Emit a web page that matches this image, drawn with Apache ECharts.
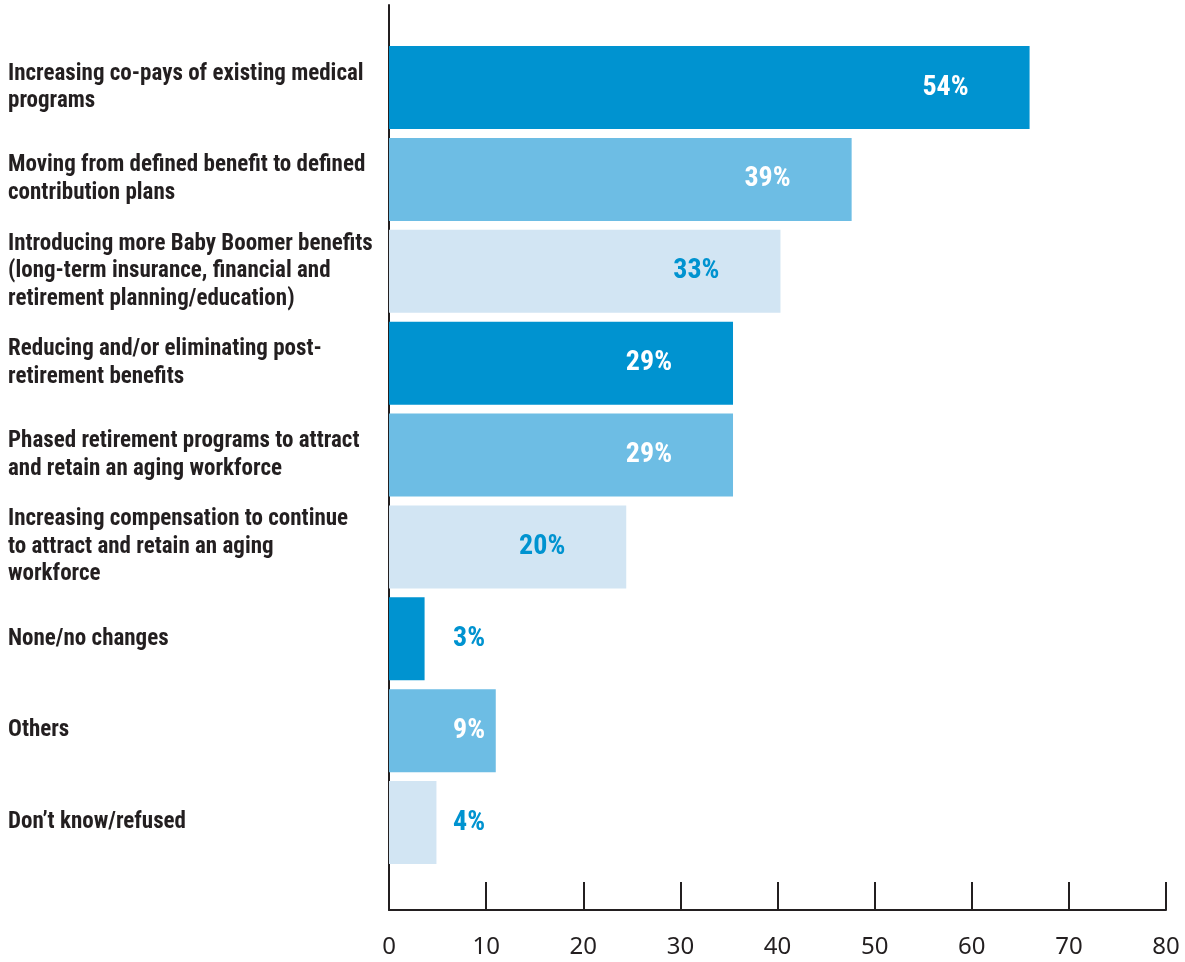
<!DOCTYPE html>
<html>
<head>
<meta charset="utf-8">
<script src="https://cdn.jsdelivr.net/npm/echarts@6/dist/echarts.min.js"></script>
<style>
  html, body { margin: 0; padding: 0; background: #ffffff; }
  #chart { width: 1185px; height: 962px; }
</style>
</head>
<body>
<div id="chart"></div>
<script>
// Survey answers: changes planned to benefit programs
const categories = [
  'Increasing co-pays of existing medical\nprograms',
  'Moving from defined benefit to defined\ncontribution plans',
  'Introducing more Baby Boomer benefits\n(long-term insurance, financial and\nretirement planning/education)',
  'Reducing and/or eliminating post-\nretirement benefits',
  'Phased retirement programs to attract\nand retain an aging workforce',
  'Increasing compensation to continue\nto attract and retain an aging\nworkforce',
  'None/no changes',
  'Others',
  'Don\u2019t know/refused'
];
const shares = [54, 39, 33, 29, 29, 20, 3, 9, 4];   // percent of respondents
const axisTicks = [0, 10, 20, 30, 40, 50, 60, 70, 80];

// Bar shades repeat dark / medium / light down the list
const shades = ['#0093d0', '#6dbde4', '#d2e5f3'];
const labelOnShade = ['#ffffff', '#ffffff', '#0093d0'];
const INK = '#231f20';
// Narrow bold face for the category and value labels
const CONDENSED = '"Roboto Condensed", "DejaVu Sans Condensed", sans-serif';

// Short bars get their label at a fixed spot near the axis
const SHORT_BAR = 15;
const TOO_SHORT_FOR_LABEL = 5;

const barData = shares.map((v, i) => {
  const s = i % 3;
  let label;
  if (v >= SHORT_BAR) {
    label = { position: 'insideRight', distance: 61, color: labelOnShade[s] };
  } else {
    label = {
      position: [64, '50%'], align: 'left', verticalAlign: 'middle',
      color: v < TOO_SHORT_FOR_LABEL ? shades[0] : labelOnShade[s]
    };
  }
  return { value: v, itemStyle: { color: shades[s] }, label };
});

const chart = echarts.init(document.getElementById('chart'), null, { renderer: 'canvas' });
chart.setOption({
  animation: false,
  backgroundColor: '#ffffff',
  grid: [
    // bars and their category labels
    { left: 389, right: 19, top: 41.6, bottom: 93.5 },
    // frame carrying the 0–80 scale and the vertical axis line
    { left: 389, right: 19, top: 5, bottom: 52 }
  ],
  xAxis: [
    { gridIndex: 0, type: 'value', min: 0, max: 65.5, show: false },
    {
      gridIndex: 1, type: 'value', min: axisTicks[0], max: axisTicks[axisTicks.length - 1],
      interval: axisTicks[1] - axisTicks[0],
      axisLine: { show: true, lineStyle: { color: INK, width: 2 } },
      axisTick: { show: true, inside: true, length: 28, lineStyle: { color: INK, width: 2 } },
      axisLabel: { color: INK, fontSize: 24, margin: 25, fontFamily: '"Noto Sans", "Liberation Sans", sans-serif' },
      splitLine: { show: false }
    }
  ],
  yAxis: [
    {
      gridIndex: 0, type: 'category', data: categories, inverse: true,
      axisLine: { show: false }, axisTick: { show: false },
      axisLabel: {
        align: 'left', margin: 381, color: INK, fontSize: 23, fontWeight: 'bold',
        lineHeight: 27.5, fontFamily: CONDENSED
      }
    },
    {
      gridIndex: 1, type: 'value', min: 0, max: 1,
      axisLine: { show: true, lineStyle: { color: INK, width: 2 } },
      axisTick: { show: false }, axisLabel: { show: false }, splitLine: { show: false }
    }
  ],
  series: [{
    type: 'bar',
    xAxisIndex: 0, yAxisIndex: 0,
    barWidth: 83,
    data: barData,
    label: {
      show: true, formatter: '{c}%', fontSize: 28, fontWeight: 'bold', fontFamily: CONDENSED
    }
  }]
});
</script>
</body>
</html>
